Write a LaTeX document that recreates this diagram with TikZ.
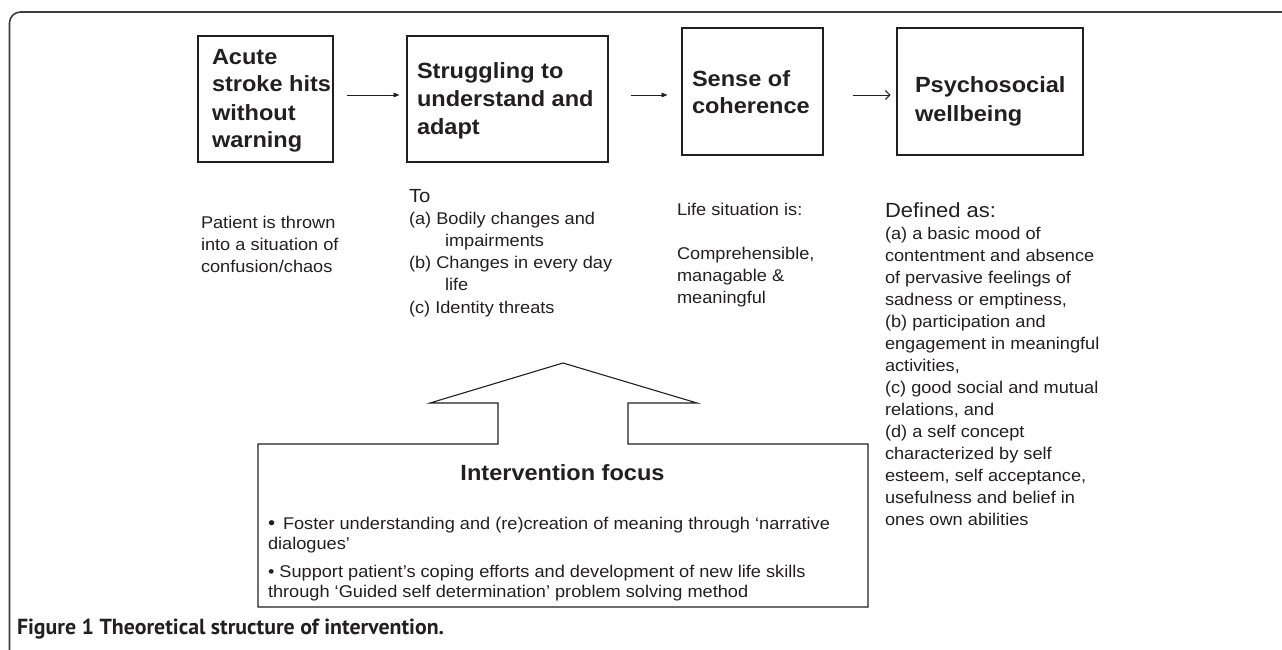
\documentclass[tikz,border=0pt]{standalone}
\usepackage{graphicx}
\usepackage{fontspec}
\setmainfont{Liberation Sans}[FakeStretch=1.07]
\newfontfamily\capfont{PT Sans}
\usetikzlibrary{arrows.meta}
\definecolor{ink}{HTML}{231F20}
\definecolor{framegray}{HTML}{3C3C3C}
\begin{document}
\begin{tikzpicture}[x=1pt,y=-1pt,
  every node/.style={inner sep=0pt, outer sep=0pt, text=ink},
  stagebox/.style={draw=ink, line width=1.1pt, rectangle},
  boxlabel/.style={anchor=base west, align=left, font=\fontsize{22}{28}\selectfont\bfseries},
  bodytext/.style={anchor=base west, align=left, font=\fontsize{17}{22.2}\selectfont},
  flowarrow/.style={draw=ink, line width=0.9pt, -{Triangle[length=6pt,width=4.6pt]}},
  openarrow/.style={draw=ink, line width=0.9pt, -{Straight Barb[length=4.5pt,width=9pt]}},
  framestyle/.style={draw=framegray, line width=1.6pt, rounded corners=11pt},
  focusshape/.style={draw=ink, line width=1.1pt, line join=miter}]
\useasboundingbox (0,0) rectangle (1282,650);

% outer frame (top and left edges)
\draw[framestyle] (9.5,650) -- (9.5,12) -- (1282,12);

% stage boxes
\node[stagebox, minimum width=135pt, minimum height=126pt] (b1) at (265.5,99) {};
\node[stagebox, minimum width=201pt, minimum height=126pt] (b2) at (507.5,99) {};
\node[stagebox, minimum width=141pt, minimum height=127pt] (b3) at (752.5,91.5) {};
\node[stagebox, minimum width=186pt, minimum height=127pt] (b4) at (990,91.5) {};

% (anchors are at the baseline of the LAST line of each text)
\node[boxlabel] (t1) at (212,148) {Acute\\stroke hits\\without\\warning};
\node[boxlabel] (t2) at (417,135) {Struggling to\\understand and\\adapt};
\node[boxlabel] (t3) at (692,114) {Sense of\\coherence};
\node[boxlabel, font=\fontsize{22}{28.5}\selectfont\bfseries] (t4) at (915,121.5) {Psychosocial\\wellbeing};

% connectors
\draw[flowarrow, shorten <=13.5pt, shorten >=7.5pt] (b1.east |- 0,95) -- (b2.west |- 0,95);
\draw[flowarrow, shorten <=22.5pt, shorten >=14.5pt] (b2.east |- 0,95) -- (b3.west |- 0,95);
\draw[openarrow, shorten <=29.5pt, shorten >=6.5pt] (b3.east |- 0,95) -- (b4.west |- 0,95);

% descriptive texts
\node[bodytext] (p1) at (201,272.4) {Patient is thrown\\into a situation of\\confusion/chaos};
\node[bodytext, font=\fontsize{19}{22}\selectfont] (p2head) at (409,202) {To};
\node[bodytext, font=\fontsize{17}{22.25}\selectfont] (p2) at (409,313) {(a) Bodily changes and\\\hspace*{36pt}impairments\\(b) Changes in every day\\\hspace*{36pt}life\\(c) Identity threats};
\node[bodytext] (p3head) at (677,215) {Life situation is:};
\node[bodytext, font=\fontsize{17}{22}\selectfont] (p3) at (677,303) {Comprehensible,\\managable \&\\meaningful};
\node[bodytext, font=\fontsize{20.5}{22}\selectfont] (p4head) at (885,217) {Defined as:};
\node[bodytext, font=\fontsize{17}{22}\selectfont] (p4) at (885,525) {(a) a basic mood of\\contentment and absence\\of pervasive feelings of\\sadness or emptiness,\\(b) participation and\\engagement in meaningful\\activities,\\(c) good social and mutual\\relations, and\\(d) a self concept\\characterized by self\\esteem, self acceptance,\\usefulness and belief in\\ones own abilities};

% intervention focus shape
\draw[focusshape] (258,444) -- (498,444) -- (498,403) -- (430,403) -- (563,363) -- (697,403) -- (628,403) -- (628,444) -- (868,444) -- (868,607) -- (258,607) -- cycle;
\node[anchor=base, font=\fontsize{22}{26}\selectfont\bfseries] (ftitle) at (562.5,480) {Intervention focus};
\node[bodytext, font=\fontsize{17}{20}\selectfont] (f1) at (268,549) {{\fontsize{19}{20}\selectfont\textbullet}\ \,Foster understanding and (re)creation of meaning through ‘narrative\\dialogues’};
\node[bodytext, font=\fontsize{17}{20}\selectfont] (f2) at (268,597) {\textbullet\ Support patient’s coping efforts and development of new life skills\\through ‘Guided self determination’ problem solving method};

% caption
\node[anchor=base west] (cap) at (17,634) {\resizebox{427pt}{!}{\capfont\bfseries Figure 1 Theoretical structure of intervention.}};
\end{tikzpicture}
\end{document}
